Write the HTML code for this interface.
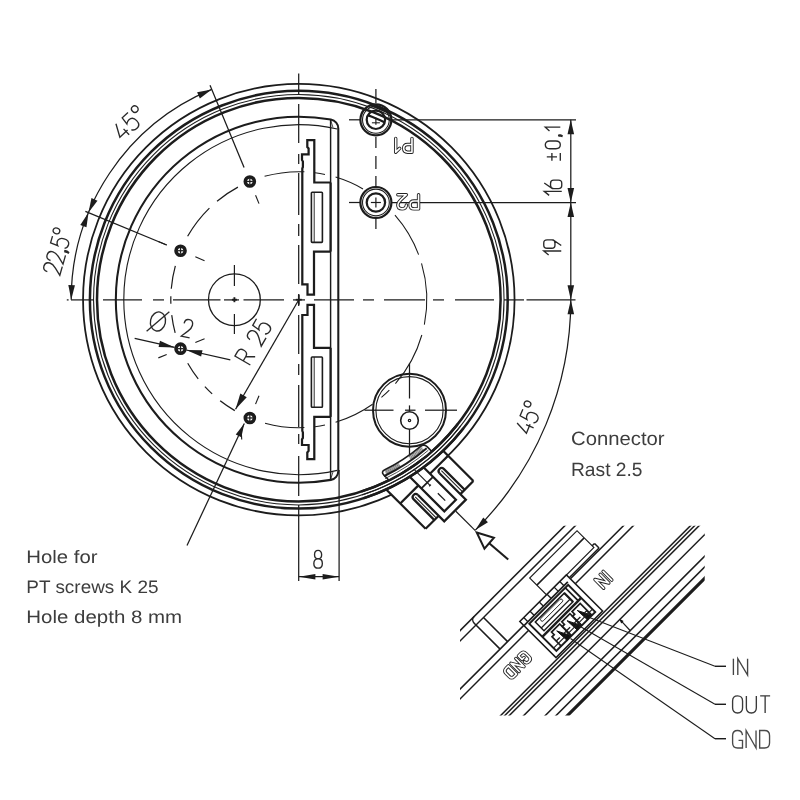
<!DOCTYPE html>
<html><head><meta charset="utf-8"><title>Drawing</title>
<style>
html,body{margin:0;padding:0;background:#fff;}
body{width:800px;height:800px;overflow:hidden;font-family:"Liberation Sans",sans-serif;}
svg{display:block;filter:blur(0.4px)}
.t{font-family:"Liberation Sans",sans-serif;fill:#3d3d3d;stroke:none;text-rendering:geometricPrecision}
</style></head><body>
<svg width="800" height="800" viewBox="0 0 800 800" fill="none" stroke="#1c1c1c" stroke-linecap="butt" stroke-linejoin="miter">
<defs><filter id="nf" x="0" y="0" width="100%" height="100%" filterUnits="userSpaceOnUse" color-interpolation-filters="sRGB"><feOffset dx="0" dy="0"/></filter></defs>
<rect x="0" y="0" width="800" height="800" fill="#fff" stroke="none"/>
<circle cx="375.9" cy="119.8" r="15.5" stroke-width="2.24" fill="#fff"/>
<circle cx="375.9" cy="119.8" r="13.4" stroke-width="1.06" />
<circle cx="375.9" cy="119.8" r="9.2" stroke-width="2.24" />
<circle cx="375.9" cy="202.5" r="15.5" stroke-width="2.24" fill="#fff"/>
<circle cx="375.9" cy="202.5" r="13.4" stroke-width="1.06" />
<circle cx="375.9" cy="202.5" r="9.2" stroke-width="2.24" />
<line x1="370.9" y1="202.5" x2="380.9" y2="202.5" stroke-width="1.19" />
<line x1="375.9" y1="197.5" x2="375.9" y2="207.5" stroke-width="1.19" />
<line x1="375.9" y1="117.8" x2="375.9" y2="124.8" stroke-width="1.19" />
<line x1="371.9" y1="122.8" x2="379.9" y2="122.8" stroke-width="1.06" />
<circle cx="298.8" cy="299.7" r="215.75" stroke-width="1.78" />
<circle cx="298.8" cy="299.7" r="208.9" stroke-width="2.51" />
<circle cx="298.8" cy="299.7" r="205.25" stroke-width="1.06" />
<circle cx="298.8" cy="299.7" r="201.8" stroke-width="2.51" />
<clipPath id="p1c"><circle cx="375.9" cy="119.8" r="14.8"/></clipPath>
<g clip-path="url(#p1c)">
<circle cx="298.8" cy="299.7" r="207.3" stroke-width="1.98" />
</g>
<clipPath id="p1d"><circle cx="375.9" cy="119.8" r="9.2"/></clipPath>
<g clip-path="url(#p1d)">
<circle cx="298.8" cy="299.7" r="197" stroke-width="2.24" />
</g>
<path d="M338.3,128.39 A9.0,9.0 0 0 0 330.88,119.53 A183.0,183.0 0 1 0 330.88,479.87 A9.0,9.0 0 0 0 338.3,471.01 Z" stroke-width="2.05" />
<path d="M337.3,128.99 A175.0,175.0 0 1 0 337.3,470.41" stroke-width="1.12" />
<line x1="330.6" y1="119.98" x2="330.6" y2="479.42" stroke-width="1.45" />
<line x1="330.6" y1="119.98" x2="333" y2="127.48" stroke-width="0.79" />
<line x1="330.6" y1="479.42" x2="333" y2="471.92" stroke-width="0.79" />
<path d="M330.6,182.5 L314.3,182.5 L314.3,140.2 L307.3,140.2 L307.3,147 L308.6,148.5 L308.6,154.4 L302,154.4 L302,160 L302.9,161.5 L302.9,167 L302.3,168.5 L302.3,284.4 L307.5,284.4 L307.5,294.6 L314,294.6 L314,251.6 L330.6,251.6" stroke-width="2.24" stroke-linejoin="miter"/>
<line x1="330.6" y1="182.5" x2="330.6" y2="251.6" stroke-width="2.24" />
<rect x="311.4" y="192.2" width="11" height="50.2" stroke-width="1.6" rx="0.8"/>
<line x1="314.2" y1="192.2" x2="314.2" y2="242.4" stroke-width="0.92" />
<path d="M330.6,416.9 L314.3,416.9 L314.3,459.2 L307.3,459.2 L307.3,452.4 L308.6,450.9 L308.6,445 L302,445 L302,439.4 L302.9,437.9 L302.9,432.4 L302.3,430.9 L302.3,315 L307.5,315 L307.5,304.8 L314,304.8 L314,347.8 L330.6,347.8" stroke-width="2.24" stroke-linejoin="miter"/>
<line x1="330.6" y1="416.9" x2="330.6" y2="347.8" stroke-width="2.24" />
<rect x="311.4" y="357" width="11" height="50.2" stroke-width="1.6" rx="0.8"/>
<line x1="314.2" y1="407.2" x2="314.2" y2="357" stroke-width="0.92" />
<line x1="66.8" y1="299.9" x2="68.6" y2="299.9" stroke-width="1.25" />
<line x1="71" y1="299.9" x2="93.8" y2="299.9" stroke-width="1.25" />
<line x1="103" y1="299.9" x2="142" y2="299.9" stroke-width="1.25" />
<line x1="153" y1="299.9" x2="164" y2="299.9" stroke-width="1.25" />
<line x1="173" y1="299.9" x2="220.5" y2="299.9" stroke-width="1.25" />
<line x1="224" y1="299.9" x2="239" y2="299.9" stroke-width="1.25" />
<line x1="243.5" y1="299.9" x2="284" y2="299.9" stroke-width="1.25" />
<line x1="293" y1="299.9" x2="305" y2="299.9" stroke-width="1.25" />
<line x1="314" y1="299.9" x2="354" y2="299.9" stroke-width="1.25" />
<line x1="363" y1="299.9" x2="374" y2="299.9" stroke-width="1.25" />
<line x1="384" y1="299.9" x2="425" y2="299.9" stroke-width="1.25" />
<line x1="433" y1="299.9" x2="444" y2="299.9" stroke-width="1.25" />
<line x1="455" y1="299.9" x2="494" y2="299.9" stroke-width="1.25" />
<line x1="504" y1="299.9" x2="524" y2="299.9" stroke-width="1.25" />
<line x1="526.5" y1="299.9" x2="575.5" y2="299.9" stroke-width="1.25" />
<line x1="298.7" y1="73.6" x2="298.7" y2="94" stroke-width="1.25" />
<line x1="298.7" y1="104" x2="298.7" y2="143" stroke-width="1.25" />
<line x1="298.7" y1="154" x2="298.7" y2="164" stroke-width="1.25" />
<line x1="298.7" y1="173" x2="298.7" y2="215" stroke-width="1.25" />
<line x1="298.7" y1="224" x2="298.7" y2="236" stroke-width="1.25" />
<line x1="298.7" y1="245" x2="298.7" y2="284" stroke-width="1.25" />
<line x1="298.7" y1="294" x2="298.7" y2="306" stroke-width="1.25" />
<line x1="298.7" y1="315" x2="298.7" y2="354" stroke-width="1.25" />
<line x1="298.7" y1="364" x2="298.7" y2="375" stroke-width="1.25" />
<line x1="298.7" y1="385" x2="298.7" y2="427" stroke-width="1.25" />
<line x1="298.7" y1="434" x2="298.7" y2="444" stroke-width="1.25" />
<line x1="298.7" y1="456" x2="298.7" y2="496" stroke-width="1.25" />
<line x1="298.7" y1="505" x2="298.7" y2="581" stroke-width="1.25" />
<line x1="295.8" y1="299.7" x2="301.8" y2="299.7" stroke-width="1.72" />
<line x1="298.8" y1="294.7" x2="298.8" y2="304.7" stroke-width="1.72" />
<path d="M264.59,176.36 A128,128 0 0 1 304.38,171.82" stroke-width="1.06" />
<path d="M315.06,172.74 A128,128 0 0 1 324.98,174.4" stroke-width="1.06" />
<path d="M335.58,177.1 A128,128 0 0 1 362.99,188.96" stroke-width="1.06" />
<path d="M394.96,215.22 A128,128 0 0 1 418.62,254.66" stroke-width="1.06" />
<path d="M421.53,263.35 A128,128 0 0 1 424.36,324.56" stroke-width="1.06" />
<path d="M421.84,334.98 A128,128 0 0 1 395.4,383.68" stroke-width="1.06" />
<path d="M389.31,390.21 A128,128 0 0 1 381.42,397.47" stroke-width="1.06" />
<path d="M372.58,404.29 A128,128 0 0 1 335.58,422.3" stroke-width="1.06" />
<path d="M324.98,425 A128,128 0 0 1 315.06,426.66" stroke-width="1.06" />
<path d="M304.38,427.58 A128,128 0 0 1 265.02,423.16" stroke-width="1.06" />
<path d="M212.16,393.92 A128,128 0 0 1 204.88,386.67" stroke-width="1.21" />
<path d="M198.21,378.86 A128,128 0 0 1 187.73,363.31" stroke-width="1.21" />
<path d="M175.16,332.83 A128,128 0 0 1 171.73,315.08" stroke-width="1.21" />
<path d="M170.86,303.72 A128,128 0 0 1 170.84,296.35" stroke-width="1.21" />
<path d="M171.27,288.77 A128,128 0 0 1 175.34,265.92" stroke-width="1.21" />
<path d="M187.62,236.28 A128,128 0 0 1 209.4,208.09" stroke-width="1.21" />
<path d="M217.04,201.22 A128,128 0 0 1 237.92,187.1" stroke-width="1.21" />
<circle cx="234.4" cy="299.7" r="25.9" stroke-width="1.32" />
<line x1="234.4" y1="265" x2="234.4" y2="286" stroke-width="1.19" />
<line x1="234.4" y1="314" x2="234.4" y2="334" stroke-width="1.19" />
<line x1="231.9" y1="299.7" x2="236.9" y2="299.7" stroke-width="1.85" />
<line x1="234.4" y1="297.2" x2="234.4" y2="302.2" stroke-width="1.85" />
<circle cx="249.82" cy="181.44" r="4.5" stroke-width="3.63" fill="#fff"/>
<line x1="246.82" y1="181.44" x2="252.82" y2="181.44" stroke-width="1.25" />
<line x1="249.82" y1="178.44" x2="249.82" y2="184.44" stroke-width="1.25" />
<circle cx="180.54" cy="250.72" r="4.5" stroke-width="3.63" fill="#fff"/>
<line x1="177.54" y1="250.72" x2="183.54" y2="250.72" stroke-width="1.25" />
<line x1="180.54" y1="247.72" x2="180.54" y2="253.72" stroke-width="1.25" />
<circle cx="180.54" cy="348.68" r="4.5" stroke-width="3.63" fill="#fff"/>
<line x1="177.54" y1="348.68" x2="183.54" y2="348.68" stroke-width="1.25" />
<line x1="180.54" y1="345.68" x2="180.54" y2="351.68" stroke-width="1.25" />
<circle cx="249.82" cy="417.96" r="4.5" stroke-width="3.63" fill="#fff"/>
<line x1="246.82" y1="417.96" x2="252.82" y2="417.96" stroke-width="1.25" />
<line x1="249.82" y1="414.96" x2="249.82" y2="420.96" stroke-width="1.25" />
<line x1="204.56" y1="260.67" x2="195.33" y2="256.84" stroke-width="1.12" />
<line x1="166.69" y1="244.98" x2="158.37" y2="241.53" stroke-width="1.12" />
<line x1="204.56" y1="338.73" x2="195.33" y2="342.56" stroke-width="1.12" />
<line x1="166.69" y1="354.42" x2="158.37" y2="357.87" stroke-width="1.12" />
<line x1="259" y1="203.62" x2="255.56" y2="195.3" stroke-width="1.12" />
<line x1="259" y1="395.78" x2="255.56" y2="404.1" stroke-width="1.12" />
<line x1="375.9" y1="89" x2="375.9" y2="103" stroke-width="1.25" />
<line x1="375.9" y1="137" x2="375.9" y2="148" stroke-width="1.25" />
<line x1="375.9" y1="156" x2="375.9" y2="169" stroke-width="1.25" />
<line x1="375.9" y1="176" x2="375.9" y2="186.5" stroke-width="1.25" />
<line x1="375.9" y1="218.5" x2="375.9" y2="229" stroke-width="1.25" />
<line x1="349" y1="119.8" x2="360" y2="119.8" stroke-width="1.25" />
<line x1="349" y1="202.5" x2="360" y2="202.5" stroke-width="1.25" />
<line x1="391.5" y1="119.8" x2="576" y2="119.8" stroke-width="1.25" />
<line x1="392" y1="202.5" x2="576" y2="202.5" stroke-width="1.25" />
<line x1="570.8" y1="119.8" x2="570.8" y2="299.7" stroke-width="1.25" />
<polygon points="570.8,119.8 574.1,134.3 567.5,134.3" fill="#1c1c1c" stroke="none"/>
<polygon points="570.8,202.5 567.5,188 574.1,188" fill="#1c1c1c" stroke="none"/>
<polygon points="570.8,202.5 574.1,217 567.5,217" fill="#1c1c1c" stroke="none"/>
<polygon points="570.8,299.7 567.5,285.2 574.1,285.2" fill="#1c1c1c" stroke="none"/>
<g transform="translate(553,188) rotate(-90) translate(-7.8,-8.75) scale(1.4,1.75)" fill="none" stroke="#2a2a2a" stroke-width="1.35" >
<path vector-effect="non-scaling-stroke" transform="translate(0,0)" d="M0.3,2.8 L3.2,0 L3.2,10"/>
<path vector-effect="non-scaling-stroke" transform="translate(5.15,0)" d="M0,5.4 C0,4.2 0.9,3.6 2.2,3.6 L3.8,3.6 C5.1,3.6 6,4.2 6,5.4 L6,8.1 C6,9.3 5.1,10 3.8,10 L2.2,10 C0.9,10 0,9.3 0,8.1 L0,4.6 L4,0"/>
</g>
<g transform="translate(552.8,143.8) rotate(-90) translate(-16.9,-7.5) scale(1.29,1.5)" fill="none" stroke="#2a2a2a" stroke-width="1.35" >
<path vector-effect="non-scaling-stroke" transform="translate(0,0)" d="M0,4.4 L6,4.4 M3,1 L3,7.8 M0,10 L6,10"/>
<path vector-effect="non-scaling-stroke" transform="translate(9.3,0)" d="M3,0 C1.1,0 0,1.2 0,3 L0,7 C0,8.8 1.1,10 3,10 C4.9,10 6,8.8 6,7 L6,3 C6,1.2 4.9,0 3,0 Z"/>
<path vector-effect="non-scaling-stroke" transform="translate(18.6,0)" d="M0.5,8.7 L0.5,10.1 L0.1,11.5 M1.3,8.7 L1.3,10.2 L0.6,11.6 M0.5,8.9 L1.3,8.9 M0.5,9.7 L1.3,9.7"/>
<path vector-effect="non-scaling-stroke" transform="translate(22.8,0)" d="M0.3,2.8 L3.2,0 L3.2,10"/>
</g>
<g transform="translate(552.5,247.7) rotate(-90) translate(-7.8,-8.75) scale(1.4,1.75)" fill="none" stroke="#2a2a2a" stroke-width="1.35" >
<path vector-effect="non-scaling-stroke" transform="translate(0,0)" d="M0.3,2.8 L3.2,0 L3.2,10"/>
<path vector-effect="non-scaling-stroke" transform="translate(5.15,0)" d="M6,4.6 C6,5.8 5.1,6.4 3.8,6.4 L2.2,6.4 C0.9,6.4 0,5.8 0,4.6 L0,1.9 C0,0.7 0.9,0 2.2,0 L3.8,0 C5.1,0 6,0.7 6,1.9 L6,5.4 L2,10"/>
</g>
<path d="M570.8,299.7 A325.8,325.8 0 0 1 475.38,530.08" stroke-width="1.25" />
<polygon points="570.8,299.7 574.1,314.2 567.5,314.2" fill="#1c1c1c" stroke="none"/>
<polygon points="475.38,530.08 483.29,517.49 487.96,522.16" fill="#1c1c1c" stroke="none"/>
<g transform="translate(528.91,417.8) rotate(-67.5) translate(-15.15,-8.9) scale(1.53,1.78)" fill="none" stroke="#2a2a2a" stroke-width="1.35" >
<path vector-effect="non-scaling-stroke" transform="translate(0,0)" d="M3.8,0 L0,7 L6.3,7 M5,5 L5,9.6"/>
<path vector-effect="non-scaling-stroke" transform="translate(8,0)" d="M5.6,0 L0.9,0 L0.4,4.3 C1.1,3.7 2,3.4 3,3.4 C4.8,3.4 6,4.7 6,6.7 C6,8.8 4.8,10 3,10 C1.6,10 0.6,9.4 0,8.4"/>
<path vector-effect="non-scaling-stroke" transform="translate(16,0)" d="M1.9,-0.6 C0.8,-0.6 0,0.2 0,1.3 C0,2.4 0.8,3.2 1.9,3.2 C3,3.2 3.8,2.4 3.8,1.3 C3.8,0.2 3,-0.6 1.9,-0.6 Z"/>
</g>
<path d="M71.2,299.7 A227.6,227.6 0 0 1 211.7,89.43" stroke-width="1.25" />
<line x1="166.69" y1="244.98" x2="85.38" y2="211.3" stroke-width="1.25" />
<line x1="244.08" y1="167.59" x2="210.02" y2="85.36" stroke-width="1.25" />
<polygon points="71.2,299.7 68.33,285.11 74.93,285.3" fill="#1c1c1c" stroke="none"/>
<polygon points="88.53,212.6 86.46,227.33 80.29,224.98" fill="#1c1c1c" stroke="none"/>
<polygon points="88.53,212.6 91.46,198.02 97.48,200.73" fill="#1c1c1c" stroke="none"/>
<polygon points="211.7,89.43 199.83,98.38 197.12,92.36" fill="#1c1c1c" stroke="none"/>
<g transform="translate(57.37,251.46) rotate(-74) translate(-22.2,-8.9) scale(1.5,1.78)" fill="none" stroke="#2a2a2a" stroke-width="1.35" >
<path vector-effect="non-scaling-stroke" transform="translate(0,0)" d="M0,2.7 C0,1 1.2,0 3,0 C4.8,0 6,1 6,2.7 C6,4.3 5.2,5.2 3.8,6.5 L0,10 L6,10"/>
<path vector-effect="non-scaling-stroke" transform="translate(7.75,0)" d="M0,2.7 C0,1 1.2,0 3,0 C4.8,0 6,1 6,2.7 C6,4.3 5.2,5.2 3.8,6.5 L0,10 L6,10"/>
<path vector-effect="non-scaling-stroke" transform="translate(15.5,0)" d="M0.5,8.7 L0.5,10.1 L0.1,11.5 M1.3,8.7 L1.3,10.2 L0.6,11.6 M0.5,8.9 L1.3,8.9 M0.5,9.7 L1.3,9.7"/>
<path vector-effect="non-scaling-stroke" transform="translate(18.15,0)" d="M5.6,0 L0.9,0 L0.4,4.3 C1.1,3.7 2,3.4 3,3.4 C4.8,3.4 6,4.7 6,6.7 C6,8.8 4.8,10 3,10 C1.6,10 0.6,9.4 0,8.4"/>
<path vector-effect="non-scaling-stroke" transform="translate(25.9,0)" d="M1.9,-0.6 C0.8,-0.6 0,0.2 0,1.3 C0,2.4 0.8,3.2 1.9,3.2 C3,3.2 3.8,2.4 3.8,1.3 C3.8,0.2 3,-0.6 1.9,-0.6 Z"/>
</g>
<g transform="translate(129.56,123.16) rotate(-43.5) translate(-16.74,-8.9) scale(1.69,1.78)" fill="none" stroke="#2a2a2a" stroke-width="1.35" >
<path vector-effect="non-scaling-stroke" transform="translate(0,0)" d="M3.8,0 L0,7 L6.3,7 M5,5 L5,9.6"/>
<path vector-effect="non-scaling-stroke" transform="translate(8,0)" d="M5.6,0 L0.9,0 L0.4,4.3 C1.1,3.7 2,3.4 3,3.4 C4.8,3.4 6,4.7 6,6.7 C6,8.8 4.8,10 3,10 C1.6,10 0.6,9.4 0,8.4"/>
<path vector-effect="non-scaling-stroke" transform="translate(16,0)" d="M1.9,-0.6 C0.8,-0.6 0,0.2 0,1.3 C0,2.4 0.8,3.2 1.9,3.2 C3,3.2 3.8,2.4 3.8,1.3 C3.8,0.2 3,-0.6 1.9,-0.6 Z"/>
</g>
<line x1="339.1" y1="470" x2="339.1" y2="581" stroke-width="1.25" />
<line x1="298.9" y1="576.7" x2="339.1" y2="576.7" stroke-width="1.25" />
<polygon points="298.9,576.7 315.4,573.9 315.4,579.5" fill="#1c1c1c" stroke="none"/>
<polygon points="339.1,576.7 322.6,579.5 322.6,573.9" fill="#1c1c1c" stroke="none"/>
<g transform="translate(318.1,559.3) rotate(0) translate(-4.27,-8.9) scale(1.42,1.78)" fill="none" stroke="#2a2a2a" stroke-width="1.35" >
<path vector-effect="non-scaling-stroke" transform="translate(0,0)" d="M3,0 C1.4,0 0.5,1 0.5,2.4 C0.5,3.8 1.5,4.7 3,4.7 C4.5,4.7 5.5,3.8 5.5,2.4 C5.5,1 4.6,0 3,0 Z M3,4.7 C1.2,4.7 0,5.7 0,7.3 C0,9 1.2,10 3,10 C4.8,10 6,9 6,7.3 C6,5.7 4.8,4.7 3,4.7 Z"/>
</g>
<line x1="298.8" y1="299.7" x2="235.55" y2="409.25" stroke-width="1.25" />
<polygon points="235.55,409.25 240.35,393.55 246.75,397.25" fill="#1c1c1c" stroke="none"/>
<g transform="translate(253.6,341.6) rotate(-60) translate(-21.91,-8.9) scale(1.6,1.78)" fill="none" stroke="#2a2a2a" stroke-width="1.35" >
<path vector-effect="non-scaling-stroke" transform="translate(0,0)" d="M0,10 L0,0 L3.2,0 C5,0 6,1 6,2.7 C6,4.4 5,5.4 3.2,5.4 L0,5.4 M3.2,5.4 L6,10"/>
<path vector-effect="non-scaling-stroke" transform="translate(13.6,0)" d="M0,2.7 C0,1 1.2,0 3,0 C4.8,0 6,1 6,2.7 C6,4.3 5.2,5.2 3.8,6.5 L0,10 L6,10"/>
<path vector-effect="non-scaling-stroke" transform="translate(21.35,0)" d="M5.6,0 L0.9,0 L0.4,4.3 C1.1,3.7 2,3.4 3,3.4 C4.8,3.4 6,4.7 6,6.7 C6,8.8 4.8,10 3,10 C1.6,10 0.6,9.4 0,8.4"/>
</g>
<path d="M234.8,410.55 A128,128 0 0 1 220.17,400.7" stroke-width="1.39" />
<line x1="134.68" y1="338.43" x2="174.69" y2="347.37" stroke-width="1.25" />
<line x1="186.4" y1="349.99" x2="230.32" y2="359.81" stroke-width="1.25" />
<polygon points="174.88,347.42 158.57,347.05 159.97,340.81" fill="#1c1c1c" stroke="none"/>
<polygon points="186.2,349.95 202.52,350.32 201.12,356.56" fill="#1c1c1c" stroke="none"/>
<g transform="translate(158,321.5) rotate(12.6) translate(-6.54,-8.6) scale(1.63,1.72)" fill="none" stroke="#2a2a2a" stroke-width="1.35" >
<path vector-effect="non-scaling-stroke" transform="translate(0,0)" d="M4,-0.6 C1.6,-0.6 -0.6,1.8 -0.6,5 C-0.6,8.2 1.6,10.6 4,10.6 C6.4,10.6 8.6,8.2 8.6,5 C8.6,1.8 6.4,-0.6 4,-0.6 Z M-1.5,12 L9.5,-2"/>
</g>
<g transform="translate(187.4,328.3) rotate(12.6) translate(-4.27,-8.9) scale(1.42,1.78)" fill="none" stroke="#2a2a2a" stroke-width="1.35" >
<path vector-effect="non-scaling-stroke" transform="translate(0,0)" d="M0,2.7 C0,1 1.2,0 3,0 C4.8,0 6,1 6,2.7 C6,4.3 5.2,5.2 3.8,6.5 L0,10 L6,10"/>
</g>
<line x1="187" y1="545.5" x2="244.3" y2="423.6" stroke-width="1.25" />
<polygon points="244.3,423.6 241.36,437.14 235.75,434.5" fill="#1c1c1c" stroke="none"/>
<line x1="241.2" y1="430.5" x2="241.7" y2="439.5" stroke-width="1.12" />
<g filter="url(#nf)">
<text class="t" transform="translate(26.3,562.5) rotate(0.02)" font-size="18.0" textLength="71.3" lengthAdjust="spacingAndGlyphs">Hole for</text>
<text class="t" transform="translate(26.3,592.7) rotate(0.02)" font-size="18.0" textLength="132.2" lengthAdjust="spacingAndGlyphs">PT screws K 25</text>
<text class="t" transform="translate(26.3,622.6) rotate(0.02)" font-size="18.0" textLength="155.8" lengthAdjust="spacingAndGlyphs">Hole depth 8 mm</text>
<text class="t" transform="translate(571.0,444.8) rotate(0.02)" font-size="19.2" textLength="93.6" lengthAdjust="spacingAndGlyphs">Connector</text>
<text class="t" transform="translate(571.0,475.5) rotate(0.02)" font-size="19.2" textLength="71.5" lengthAdjust="spacingAndGlyphs">Rast 2.5</text>
</g>
<g transform="translate(733.4,675) rotate(0) translate(0,-16.3) scale(1.63,1.63)" fill="none" stroke="#444" stroke-width="1.35" >
<path vector-effect="non-scaling-stroke" transform="translate(0,0)" d="M0,0 L0,10"/>
<path vector-effect="non-scaling-stroke" transform="translate(2.7,0)" d="M0,10 L0,0 L6,10 L6,0"/>
</g>
<g transform="translate(732.6,713) rotate(0) translate(0,-17.1) scale(1.66,1.71)" fill="none" stroke="#3a3a3a" stroke-width="1.35" >
<path vector-effect="non-scaling-stroke" transform="translate(0,0)" d="M3,0 C1.1,0 0,1.2 0,3 L0,7 C0,8.8 1.1,10 3,10 C4.9,10 6,8.8 6,7 L6,3 C6,1.2 4.9,0 3,0 Z"/>
<path vector-effect="non-scaling-stroke" transform="translate(8.3,0)" d="M0,0 L0,7 C0,8.9 1.1,10 3,10 C4.9,10 6,8.9 6,7 L6,0"/>
<path vector-effect="non-scaling-stroke" transform="translate(16.6,0)" d="M0,0 L6,0 M3,0 L3,10"/>
</g>
<g transform="translate(732.6,748) rotate(0) translate(0,-17.5) scale(1.65,1.75)" fill="none" stroke="#4a4a4a" stroke-width="1.35" >
<path vector-effect="non-scaling-stroke" transform="translate(0,0)" d="M6,2.6 C5.8,1 4.8,0 3,0 C1.1,0 0,1.2 0,3 L0,7 C0,8.8 1.1,10 3,10 L6,10 L6,5.6 L3.6,5.6"/>
<path vector-effect="non-scaling-stroke" transform="translate(8.2,0)" d="M0,10 L0,0 L6,10 L6,0"/>
<path vector-effect="non-scaling-stroke" transform="translate(16.4,0)" d="M0,0 L0,10 L3,10 C4.9,10 6,8.8 6,7 L6,3 C6,1.2 4.9,0 3,0 Z"/>
</g>
<line x1="715" y1="666.3" x2="726" y2="666.3" stroke-width="1.45" />
<line x1="715" y1="704.3" x2="726" y2="704.3" stroke-width="1.45" />
<line x1="715" y1="738.7" x2="726" y2="738.7" stroke-width="1.45" />
<circle cx="409.5" cy="410.2" r="36.5" stroke-width="1.98" />
<circle cx="409.5" cy="410.2" r="33.6" stroke-width="1.12" />
<line x1="364.5" y1="410.2" x2="393.5" y2="410.2" stroke-width="1.25" />
<line x1="405" y1="410.2" x2="415.5" y2="410.2" stroke-width="1.25" />
<line x1="425" y1="410.2" x2="457" y2="410.2" stroke-width="1.25" />
<line x1="409.5" y1="363.5" x2="409.5" y2="398.5" stroke-width="1.25" />
<line x1="409.5" y1="405.4" x2="409.5" y2="411" stroke-width="1.25" />
<line x1="409.5" y1="429.5" x2="409.5" y2="462" stroke-width="1.25" />
<circle cx="409.5" cy="420.5" r="8.8" stroke-width="1.58" />
<circle cx="409.5" cy="420.5" r="1.2" stroke-width="1.19" />
<path d="M448.08,455.68 L444.97,452.57 A211.5,211.5 0 0 1 388.18,491.38 L400.28,503.48 Z" fill="#fff" stroke="none"/>
<path d="M473.39,480.99 L443.13,450.73" stroke-width="2.24" />
<path d="M425.59,528.79 L386.23,489.43" stroke-width="2.24" />
<path d="M429.97,473.78 L448.08,455.68" stroke-width="2.24" />
<path d="M418.38,485.37 L400.28,503.48" stroke-width="2.24" />
<path d="M473.39,480.99 L460.38,494.14" stroke-width="2.24" />
<path d="M464.69,489.83 L443.76,468.9 A3.05,3.05 0 0 0 439.45,473.21" stroke-width="2.24" />
<path d="M462.64,491.88 L441.36,470.6" stroke-width="1.06" />
<path d="M425.59,528.79 L438.74,515.78" stroke-width="2.24" />
<path d="M434.43,520.09 L413.5,499.16 A3.05,3.05 0 0 1 417.81,494.85" stroke-width="2.24" />
<path d="M436.48,518.04 L415.2,496.76" stroke-width="1.06" />
<path d="M439.45,473.21 L465.9,499.66 L444.26,521.3 L417.81,494.85" stroke-width="2.24" />
<path d="M423.5,467.3 L455.93,499.73 L444.33,511.33 L409.72,476.72" stroke-width="2.24" />
<path d="M433.02,476.82 L421.42,488.42" stroke-width="1.72" />
<path d="M475.3,530.7 L455.85,511.25" stroke-width="1.19" />
<path d="M445.25,500.65 L437.82,493.22" stroke-width="1.32" />
<path d="M430.05,485.45 L414.49,469.89" stroke-width="1.12" />
<path d="M429.2,486.29 L430.89,484.6" stroke-width="1.32" />
<path d="M431.83,451.45 L427.07,446.69 Q423.89,443.51 420.34,446.52 A190.6,190.6 0 0 1 384.83,469.78 Q380.65,471.83 383.83,475.01 L389.03,480.21" fill="#fff" stroke-width="1.6"/>
<path d="M426.66,448.26 A196,196 0 0 1 383.9,476.26" stroke-width="1.98" />
<path d="M421.68,447.1 A191.9,191.9 0 0 1 408.87,456.9" stroke-width="0.59" />
<path d="M398.78,463.5 A191.9,191.9 0 0 1 384.82,471.24" stroke-width="0.59" />
<path d="M422.39,447.94 A193,193 0 0 1 409.5,457.8" stroke-width="0.59" />
<path d="M399.35,464.44 A193,193 0 0 1 385.31,472.22" stroke-width="0.59" />
<path d="M423.09,448.79 A194.1,194.1 0 0 1 410.13,458.7" stroke-width="0.59" />
<path d="M399.93,465.37 A194.1,194.1 0 0 1 385.81,473.21" stroke-width="0.59" />
<path d="M423.67,449.48 A195,195 0 0 1 410.65,459.43" stroke-width="0.53" />
<path d="M400.4,466.14 A195,195 0 0 1 386.21,474.01" stroke-width="0.53" />
<path d="M428.35,450.23 A198.6,198.6 0 0 1 385.02,478.61" stroke-width="0.79" />
<path d="M457.82,423.94 A201.8,201.8 0 0 1 361.16,491.62" stroke-width="2.51" />
<path d="M460.54,426.06 A205.25,205.25 0 0 1 362.23,494.9" stroke-width="1.06" />
<path d="M463.42,428.31 A208.9,208.9 0 0 1 363.35,498.38" stroke-width="2.51" />
<path d="M476.75,532.5 L493.95,537.7 L484.45,548.7 Z" stroke-width="1.98" fill="#fff" stroke-linejoin="miter"/>
<line x1="489.2" y1="543.2" x2="508.2" y2="559.5" stroke-width="2.11" />
<clipPath id="insc"><rect x="460" y="525.8" width="244.7" height="189.8"/></clipPath>
<g clip-path="url(#insc)">
<g transform="translate(550.0,600.0) rotate(-45)">
<line x1="-200" y1="-42" x2="200" y2="-42" stroke-width="1.52" />
<line x1="-200" y1="-34.65" x2="200" y2="-34.65" stroke-width="1.52" />
<line x1="-200" y1="-0.57" x2="-36.5" y2="-0.57" stroke-width="1.52" />
<line x1="29.4" y1="-0.57" x2="200" y2="-0.57" stroke-width="1.52" />
<line x1="-200" y1="6.36" x2="-36.5" y2="6.36" stroke-width="1.52" />
<line x1="29.4" y1="6.36" x2="200" y2="6.36" stroke-width="1.52" />
<line x1="-200" y1="46.81" x2="200" y2="46.81" stroke-width="1.52" />
<line x1="-200" y1="49.71" x2="200" y2="49.71" stroke-width="1.52" />
<line x1="-200" y1="52.89" x2="200" y2="52.89" stroke-width="1.52" />
<line x1="-200" y1="63.14" x2="200" y2="63.14" stroke-width="1.52" />
<line x1="-200" y1="78.35" x2="200" y2="78.35" stroke-width="1.52" />
<line x1="-200" y1="85.98" x2="200" y2="85.98" stroke-width="1.52" />
<line x1="-200" y1="94.05" x2="200" y2="94.05" stroke-width="3.17" />
<path d="M-59.4,-34.65 L-59.4,-0.57" stroke-width="1.52" />
<path d="M-65.4,-42 A4.6,4.8 0 0 0 -70,-37.2 L-70,-0.57" stroke-width="1.52" />
<rect x="1.2" y="-29.91" width="66.9" height="23.9" stroke-width="1.15" fill="#fff"/>
<line x1="1.2" y1="-19.8" x2="68.1" y2="-19.8" stroke-width="1.52" />
<line x1="12" y1="-2.12" x2="71.5" y2="-2.12" stroke-width="1.52" />
<line x1="68.1" y1="-8.51" x2="71.5" y2="-8.51" stroke-width="1.52" />
<line x1="71.5" y1="-8.51" x2="71.5" y2="-2.12" stroke-width="1.52" />
<rect x="-36.5" y="-6.2" width="65.9" height="51.2" stroke-width="1.5" fill="#fff"/>
<line x1="-31" y1="-6.2" x2="-31" y2="-0.2" stroke-width="1.32" />
<line x1="-22" y1="-6.2" x2="-22" y2="-0.2" stroke-width="1.32" />
<line x1="-9" y1="-6.2" x2="-9" y2="-0.2" stroke-width="1.32" />
<line x1="2" y1="-6.2" x2="2" y2="-0.2" stroke-width="1.32" />
<line x1="12" y1="-6.2" x2="12" y2="-0.2" stroke-width="1.32" />
<line x1="20" y1="-6.2" x2="20" y2="-0.2" stroke-width="1.32" />
<line x1="-36.5" y1="-0.2" x2="25.4" y2="-0.2" stroke-width="1.72" />
<rect x="-31.5" y="2.2" width="55" height="38.3" stroke-width="1.9"/>
<rect x="-26" y="5.2" width="41" height="12.3" stroke-width="1.5"/>
<rect x="-21" y="6.6" width="30" height="3.4" rx="1.7" stroke-width="0.9"/>
<line x1="-26" y1="13.6" x2="15" y2="13.6" stroke-width="1.19" />
<line x1="15" y1="5.2" x2="15" y2="17.5" stroke-width="2.11" />
<line x1="19.5" y1="2.2" x2="19.5" y2="21" stroke-width="1.72" />
<line x1="-31.5" y1="20.6" x2="23.5" y2="20.6" stroke-width="2.38" />
<path d="M4.4,40.5 L4.4,27.5 L7.4,27.5 L7.4,23.8 L18.9,23.8 L18.9,40.5" stroke-width="1.72" />
<line x1="4.4" y1="33.5" x2="9.4" y2="33.5" stroke-width="1.32" />
<polygon points="11.9,26.6 18.3,39.4 12.5,40.8" fill="#111" stroke="#111" stroke-width="0.9" stroke-linejoin="round"/>
<path d="M18.3,39.4 L18.3,33.5 L15.3,33.5" stroke-width="1.32" />
<path d="M-10.1,40.5 L-10.1,27.5 L-7.1,27.5 L-7.1,23.8 L4.4,23.8 L4.4,40.5" stroke-width="1.72" />
<line x1="-10.1" y1="33.5" x2="-5.1" y2="33.5" stroke-width="1.32" />
<polygon points="-2.6,26.6 3.8,39.4 -2,40.8" fill="#111" stroke="#111" stroke-width="0.9" stroke-linejoin="round"/>
<path d="M3.8,39.4 L3.8,33.5 L0.8,33.5" stroke-width="1.32" />
<path d="M-24.6,40.5 L-24.6,27.5 L-21.6,27.5 L-21.6,23.8 L-10.1,23.8 L-10.1,40.5" stroke-width="1.72" />
<line x1="-24.6" y1="33.5" x2="-19.6" y2="33.5" stroke-width="1.32" />
<polygon points="-17.1,26.6 -10.7,39.4 -16.5,40.8" fill="#111" stroke="#111" stroke-width="0.9" stroke-linejoin="round"/>
<path d="M-10.7,39.4 L-10.7,33.5 L-13.7,33.5" stroke-width="1.32" />
<line x1="-31.5" y1="36.5" x2="23.5" y2="36.5" stroke-width="1.19" />
</g>
</g>
<g transform="translate(603.4,579.8) rotate(135) translate(-5.73,-6.1) scale(1.22,1.22)" fill="none" stroke="#222" stroke-width="3.5" stroke-linecap="round" stroke-linejoin="round">
<path vector-effect="non-scaling-stroke" transform="translate(0,0)" d="M0,0 L0,10"/>
<path vector-effect="non-scaling-stroke" transform="translate(3.4,0)" d="M0,10 L0,0 L6,10 L6,0"/>
</g>
<g transform="translate(603.4,579.8) rotate(135) translate(-5.73,-6.1) scale(1.22,1.22)" fill="none" stroke="#fff" stroke-width="1.7" stroke-linecap="round" stroke-linejoin="round">
<path vector-effect="non-scaling-stroke" transform="translate(0,0)" d="M0,0 L0,10"/>
<path vector-effect="non-scaling-stroke" transform="translate(3.4,0)" d="M0,10 L0,0 L6,10 L6,0"/>
</g>
<g transform="translate(517.5,665) rotate(135) translate(-14.03,-5.75) scale(1.15,1.15)" fill="none" stroke="#222" stroke-width="3.5" stroke-linecap="round" stroke-linejoin="round">
<path vector-effect="non-scaling-stroke" transform="translate(0,0)" d="M6,2.6 C5.8,1 4.8,0 3,0 C1.1,0 0,1.2 0,3 L0,7 C0,8.8 1.1,10 3,10 L6,10 L6,5.6 L3.6,5.6"/>
<path vector-effect="non-scaling-stroke" transform="translate(9.2,0)" d="M0,10 L0,0 L6,10 L6,0"/>
<path vector-effect="non-scaling-stroke" transform="translate(18.4,0)" d="M0,0 L0,10 L3,10 C4.9,10 6,8.8 6,7 L6,3 C6,1.2 4.9,0 3,0 Z"/>
</g>
<g transform="translate(517.5,665) rotate(135) translate(-14.03,-5.75) scale(1.15,1.15)" fill="none" stroke="#fff" stroke-width="1.7" stroke-linecap="round" stroke-linejoin="round">
<path vector-effect="non-scaling-stroke" transform="translate(0,0)" d="M6,2.6 C5.8,1 4.8,0 3,0 C1.1,0 0,1.2 0,3 L0,7 C0,8.8 1.1,10 3,10 L6,10 L6,5.6 L3.6,5.6"/>
<path vector-effect="non-scaling-stroke" transform="translate(9.2,0)" d="M0,10 L0,0 L6,10 L6,0"/>
<path vector-effect="non-scaling-stroke" transform="translate(18.4,0)" d="M0,0 L0,10 L3,10 C4.9,10 6,8.8 6,7 L6,3 C6,1.2 4.9,0 3,0 Z"/>
</g>
<g transform="translate(403.7,145.3) rotate(180) translate(-8.28,-6.9) scale(1.38,1.38)" fill="none" stroke="#222" stroke-width="3.4" stroke-linecap="round" stroke-linejoin="round">
<path vector-effect="non-scaling-stroke" transform="translate(0,0)" d="M0,10 L0,0 L3.2,0 C5,0 6,1 6,2.8 C6,4.6 5,5.6 3.2,5.6 L0,5.6"/>
<path vector-effect="non-scaling-stroke" transform="translate(8.6,0)" d="M0.3,2.8 L3.2,0 L3.2,10"/>
</g>
<g transform="translate(403.7,145.3) rotate(180) translate(-8.28,-6.9) scale(1.38,1.38)" fill="none" stroke="#fff" stroke-width="1.6" stroke-linecap="round" stroke-linejoin="round">
<path vector-effect="non-scaling-stroke" transform="translate(0,0)" d="M0,10 L0,0 L3.2,0 C5,0 6,1 6,2.8 C6,4.6 5,5.6 3.2,5.6 L0,5.6"/>
<path vector-effect="non-scaling-stroke" transform="translate(8.6,0)" d="M0.3,2.8 L3.2,0 L3.2,10"/>
</g>
<g transform="translate(408.2,201.8) rotate(180) translate(-10.37,-7.1) scale(1.42,1.42)" fill="none" stroke="#222" stroke-width="3.4" stroke-linecap="round" stroke-linejoin="round">
<path vector-effect="non-scaling-stroke" transform="translate(0,0)" d="M0,10 L0,0 L3.2,0 C5,0 6,1 6,2.8 C6,4.6 5,5.6 3.2,5.6 L0,5.6"/>
<path vector-effect="non-scaling-stroke" transform="translate(8.6,0)" d="M0,2.7 C0,1 1.2,0 3,0 C4.8,0 6,1 6,2.7 C6,4.3 5.2,5.2 3.8,6.5 L0,10 L6,10"/>
</g>
<g transform="translate(408.2,201.8) rotate(180) translate(-10.37,-7.1) scale(1.42,1.42)" fill="none" stroke="#fff" stroke-width="1.6" stroke-linecap="round" stroke-linejoin="round">
<path vector-effect="non-scaling-stroke" transform="translate(0,0)" d="M0,10 L0,0 L3.2,0 C5,0 6,1 6,2.8 C6,4.6 5,5.6 3.2,5.6 L0,5.6"/>
<path vector-effect="non-scaling-stroke" transform="translate(8.6,0)" d="M0,2.7 C0,1 1.2,0 3,0 C4.8,0 6,1 6,2.7 C6,4.3 5.2,5.2 3.8,6.5 L0,10 L6,10"/>
</g>
<line x1="589.5" y1="617.4" x2="715" y2="666.3" stroke-width="1.06" />
<line x1="578.5" y1="625.5" x2="715" y2="704.3" stroke-width="1.06" />
<line x1="570.5" y1="638.5" x2="715" y2="738.7" stroke-width="1.06" />
<line x1="620.5" y1="620.2" x2="630.5" y2="631" stroke-width="1.19" />
<polygon points="619.3,618.8 623.6,621.0 621.2,623.5" fill="#111" stroke="none"/>
</svg>
</body></html>
